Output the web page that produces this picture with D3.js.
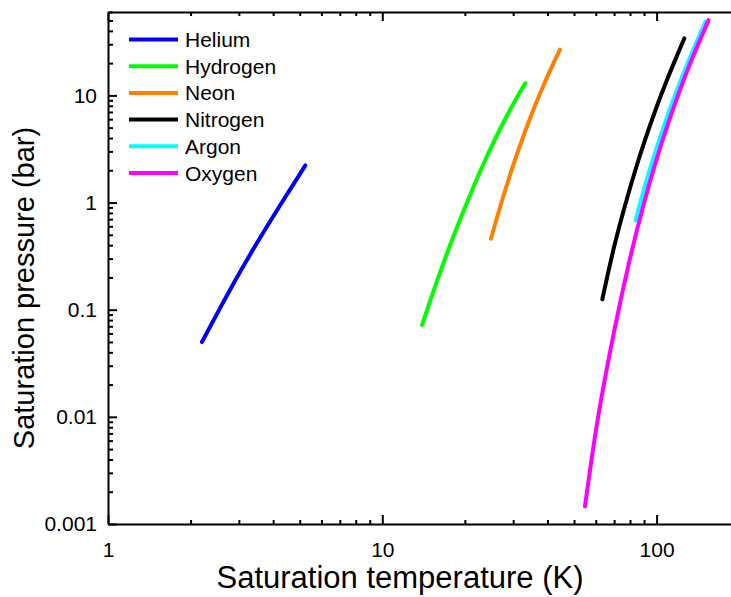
<!DOCTYPE html>
<html>
<head>
<meta charset="utf-8">
<script src="https://cdn.jsdelivr.net/npm/d3@7"></script>
<style>
  html, body { margin: 0; padding: 0; background: #fff; }
  svg { display: block; font-family: "Liberation Sans", Arial, sans-serif; }
</style>
</head>
<body>
<svg id="chart" width="731" height="597"></svg>
<script>
// Saturation (vapour-pressure) curves, triple point to critical point.
// Temperatures in K, pressures in bar.
const fluids = ["Helium", "Hydrogen", "Neon", "Nitrogen", "Argon", "Oxygen"];
const colors = ["#0000ff", "#00ff00", "#ff8000", "#000000", "#00ffff", "#ff00ff"];

const heliumT   = [2.2, 2.5, 3.0, 3.5, 4.0, 4.5, 5.0, 5.24];
const heliumP   = [0.050, 0.092, 0.215, 0.423, 0.741, 1.20, 1.83, 2.22];

const hydrogenT = [13.96, 16, 18, 20.4, 23, 26, 29, 31, 33.2];
const hydrogenP = [0.072, 0.200, 0.455, 1.013, 2.09, 4.10, 7.07, 9.63, 12.97];

const neonT     = [24.9, 27.1, 30, 33, 36, 39, 42, 44.4];
const neonP     = [0.46, 0.975, 2.22, 4.45, 7.95, 13.0, 19.8, 26.7];

const nitrogenT = [63.4, 70, 77.35, 85, 90, 100, 110, 120, 126.2];
const nitrogenP = [0.125, 0.386, 1.013, 2.29, 3.6, 7.78, 14.67, 25.1, 34.0];

const argonT    = [83.8, 87.3, 90, 100, 110, 120, 130, 140, 150.7];
const argonP    = [0.68, 1.013, 1.34, 3.24, 6.66, 12.1, 20.3, 31.8, 48.6];

const oxygenT   = [54.8, 60, 70, 80, 90.2, 100, 110, 120, 130, 140, 150, 154.6];
const oxygenP   = [0.00146, 0.0073, 0.0626, 0.301, 1.013, 2.54, 5.43, 10.2, 17.5, 27.9, 41.8, 50.4];

const xTickValues = [1, 10, 100];
const xTickLabels = ["1", "10", "100"];
const yTickValues = [0.001, 0.01, 0.1, 1, 10];
const yTickLabels = ["0.001", "0.01", "0.1", "1", "10"];

const xLabel = "Saturation temperature (K)";
const yLabel = "Saturation pressure (bar)";

const seriesT = [heliumT, hydrogenT, neonT, nitrogenT, argonT, oxygenT];
const seriesP = [heliumP, hydrogenP, neonP, nitrogenP, argonP, oxygenP];
const series = fluids.map((name, i) => ({
  name, color: colors[i],
  points: seriesT[i].map((t, j) => [t, seriesP[i][j]])
}));

const svg = d3.select("#chart");
const plotLeft = 108, plotTop = 12, plotBottom = 524;

const x = d3.scaleLog().domain([1, 200]).range([plotLeft, plotLeft + Math.log10(200) * 274.3]);
const y = d3.scaleLog().domain([0.001, 60]).range([plotBottom, plotTop]);

// minor tick positions (2..9 within each decade)
function minorTicks(lo, hi) {
  const out = [];
  for (let d = lo; d < hi; d *= 10)
    for (let k = 2; k <= 9; k++) if (d * k <= hi * 1.0001) out.push(+(d * k).toPrecision(6));
  return out;
}
const xMinor = minorTicks(1, 200);
const yMinor = minorTicks(0.001, 60);

const axisColor = "#000";

// curves
const line = d3.line().x(d => x(d[0])).y(d => y(d[1])).curve(d3.curveMonotoneX);
svg.append("g").selectAll("path").data(series).join("path")
  .attr("d", d => line(d.points))
  .attr("fill", "none")
  .attr("stroke", d => d.color)
  .attr("stroke-width", 4)
  .attr("stroke-linecap", "round")
  .attr("stroke-linejoin", "round");

// bottom axis
const bottomAxis = d3.axisBottom(x).tickValues(xTickValues)
  .tickFormat((d, i) => xTickLabels[i]).tickSizeInner(-9).tickSizeOuter(0).tickPadding(18);
const bx = svg.append("g").attr("transform", `translate(0,${plotBottom})`).call(bottomAxis);
bx.selectAll(".tick text").attr("font-size", 21).attr("fill", "#000")
  .attr("font-family", "Liberation Sans, Arial, sans-serif");
svg.append("g").attr("transform", `translate(0,${plotBottom})`)
  .call(d3.axisBottom(x).tickValues(xMinor).tickFormat("").tickSizeInner(-4).tickSizeOuter(0))
  .select(".domain").remove();

// top axis (ticks only, no labels)
svg.append("g").attr("transform", `translate(0,${plotTop})`)
  .call(d3.axisTop(x).tickValues(xTickValues).tickFormat("").tickSizeInner(-9).tickSizeOuter(0));
svg.append("g").attr("transform", `translate(0,${plotTop})`)
  .call(d3.axisTop(x).tickValues(xMinor).tickFormat("").tickSizeInner(-4).tickSizeOuter(0))
  .select(".domain").remove();

// left axis
const leftAxis = d3.axisLeft(y).tickValues(yTickValues)
  .tickFormat((d, i) => yTickLabels[i]).tickSizeInner(-9).tickSizeOuter(0).tickPadding(11);
const ly = svg.append("g").attr("transform", `translate(${plotLeft},0)`).call(leftAxis);
ly.selectAll(".tick text").attr("font-size", 21).attr("fill", "#000")
  .attr("font-family", "Liberation Sans, Arial, sans-serif");
svg.append("g").attr("transform", `translate(${plotLeft},0)`)
  .call(d3.axisLeft(y).tickValues(yMinor).tickFormat("").tickSizeInner(-5).tickSizeOuter(0))
  .select(".domain").remove();

svg.selectAll(".domain").attr("stroke", axisColor).attr("stroke-width", 2);
svg.selectAll(".tick line").attr("stroke", axisColor).attr("stroke-width", 2);

// axis titles
svg.append("text")
  .attr("x", 400).attr("y", 588)
  .attr("text-anchor", "middle")
  .attr("font-size", 31).attr("fill", "#000")
  .text(xLabel);
svg.append("text")
  .attr("transform", "translate(34,288) rotate(-90)")
  .attr("text-anchor", "middle")
  .attr("font-size", 29).attr("fill", "#000")
  .text(yLabel);

// legend
const rows = svg.append("g").selectAll("g").data(series).join("g")
  .attr("transform", (d, i) => `translate(0,${39.5 + i * 26.7})`);
rows.append("line")
  .attr("x1", 129).attr("x2", 178).attr("y1", 0).attr("y2", 0)
  .attr("stroke", d => d.color).attr("stroke-width", 4);
rows.append("text")
  .attr("x", 185).attr("y", 7.5)
  .attr("font-size", 21).attr("fill", "#000")
  .text(d => d.name);
</script>
</body>
</html>
